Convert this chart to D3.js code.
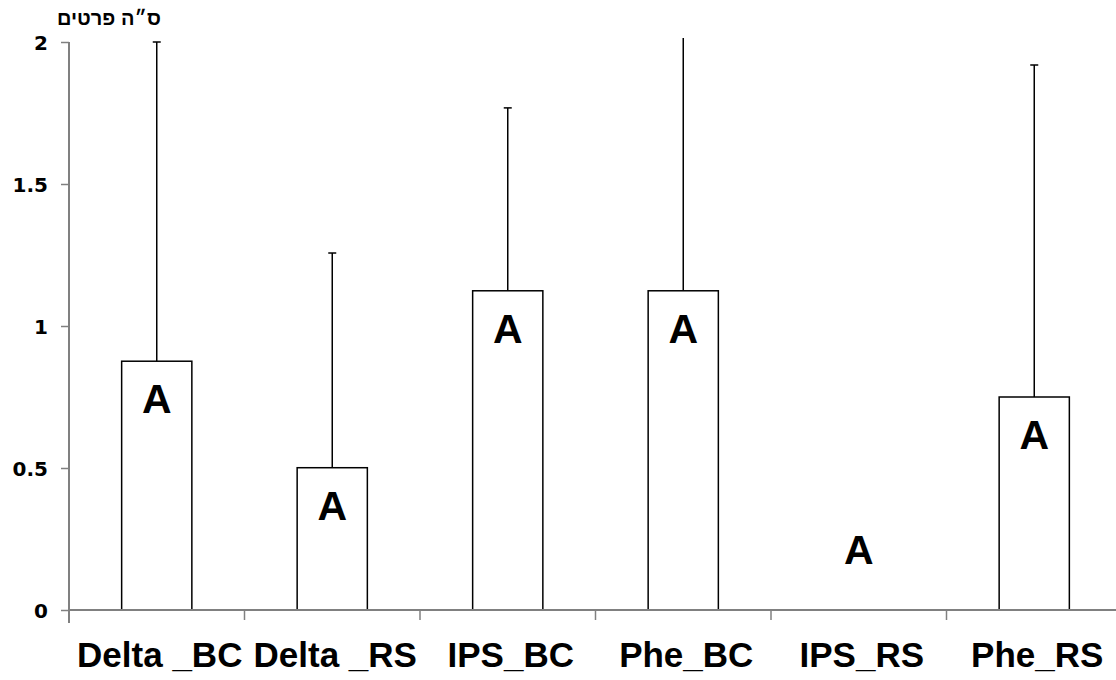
<!DOCTYPE html>
<html>
<head>
<meta charset="utf-8">
<script src="https://cdn.jsdelivr.net/npm/d3@7"></script>
<style>
  body { margin: 0; background: #fff; }
  text { font-family: Arial, "Liberation Sans", sans-serif; }
</style>
</head>
<body>
<script>
// data
var categories = ["Delta _BC", "Delta _RS", "IPS_BC", "Phe_BC", "IPS_RS", "Phe_RS"];
var means = [0.876, 0.501, 1.124, 1.124, 0, 0.75];
var errTops = [2.0, 1.257, 1.768, 2.1, 0, 1.919];
var letters = ["A", "A", "A", "A", "A", "A"];
var yTicks = [0, 0.5, 1, 1.5, 2];

var width = 1116, height = 680;
var margin = {left: 69, top: 42, bottom: 70};

var svg = d3.select("body")
            .append("svg")
            .attr("width", width)
            .attr("height", height);

var x = d3.scaleBand()
          .domain(categories)
          .range([margin.left, margin.left + 175.5 * categories.length])
          .paddingInner(0)
          .paddingOuter(0);

var y = d3.scaleLinear()
          .domain([0, 2])
          .range([610, margin.top]);

var barW = x.bandwidth() * 0.4;

// clip so error bars going past the top get cut like the original
svg.append("clipPath")
   .attr("id", "plot")
   .append("rect")
   .attr("x", margin.left)
   .attr("y", y(2) - 4)
   .attr("width", width)
   .attr("height", y(0) - y(2) + 8);

var plot = svg.append("g").attr("clip-path", "url(#plot)");

// error bars (upward only)
var err = plot.selectAll("g.err")
              .data(categories)
              .enter()
              .append("g")
              .attr("class", "err");

err.append("line")
   .attr("x1", d => x(d) + x.bandwidth() / 2)
   .attr("x2", d => x(d) + x.bandwidth() / 2)
   .attr("y1", (d, i) => y(means[i]))
   .attr("y2", (d, i) => y(errTops[i]))
   .attr("stroke", "#000")
   .attr("stroke-width", 1.5);

err.append("line")
   .attr("x1", d => x(d) + x.bandwidth() / 2 - 4)
   .attr("x2", d => x(d) + x.bandwidth() / 2 + 4)
   .attr("y1", (d, i) => y(errTops[i]))
   .attr("y2", (d, i) => y(errTops[i]))
   .attr("stroke", "#000")
   .attr("stroke-width", 1.5);

// bars
plot.selectAll("rect.bar")
    .data(categories)
    .enter()
    .append("rect")
    .attr("class", "bar")
    .attr("x", d => x(d) + (x.bandwidth() - barW) / 2)
    .attr("y", (d, i) => y(means[i]))
    .attr("width", barW)
    .attr("height", (d, i) => y(0) - y(means[i]))
    .attr("fill", "#fff")
    .attr("stroke", "#000")
    .attr("stroke-width", 1.5);

// y axis
var yAxis = d3.axisLeft(y)
              .tickValues(yTicks)
              .tickSize(8)
              .tickFormat(d3.format("~g"));

var ga = svg.append("g")
            .attr("transform", "translate(" + margin.left + ",0)")
            .call(yAxis);
ga.select(".domain").attr("stroke", "#808080").attr("stroke-width", 2)
  .attr("d", "M0," + y(2) + "V" + (y(0) + 13));
ga.selectAll(".tick line").attr("stroke", "#808080").attr("stroke-width", 1.5);
ga.selectAll(".tick text")
  .attr("x", -21)
  .attr("dy", "0.36em")
  .attr("fill", "#000")
  .style("font-family", "'DejaVu Sans', Verdana, sans-serif")
  .style("font-weight", "bold")
  .style("font-size", "20px");

// x axis
var xAxis = d3.axisBottom(x).tickSize(0).tickFormat("");
var gx = svg.append("g")
            .attr("transform", "translate(0," + y(0) + ")")
            .call(xAxis);
gx.select(".domain").attr("stroke", "#808080").attr("stroke-width", 2)
  .attr("d", "M" + margin.left + ",0H" + width);

// category separator ticks
svg.selectAll("line.sep")
   .data(categories.slice(1))
   .enter()
   .append("line")
   .attr("class", "sep")
   .attr("x1", d => x(d))
   .attr("x2", d => x(d))
   .attr("y1", y(0))
   .attr("y2", y(0) + 10)
   .attr("stroke", "#808080")
   .attr("stroke-width", 1.5);

svg.selectAll("text.cat")
   .data(categories)
   .enter()
   .append("text")
   .attr("class", "cat")
   .attr("x", d => x(d) + x.bandwidth() / 2 + 3)
   .attr("y", 667)
   .attr("text-anchor", "middle")
   .style("font-weight", "bold")
   .style("font-size", "35px")
   .text(d => d);

// significance letters
svg.selectAll("text.letter")
   .data(letters)
   .enter()
   .append("text")
   .attr("class", "letter")
   .attr("x", (d, i) => x(categories[i]) + x.bandwidth() / 2)
   .attr("y", (d, i) => means[i] > 0 ? y(means[i]) + 52 : y(0) - 46)
   .attr("text-anchor", "middle")
   .style("font-weight", "bold")
   .style("font-size", "41px")
   .text(d => d);

// y axis title (Hebrew)
svg.append("text")
   .attr("x", 109)
   .attr("y", 25)
   .attr("text-anchor", "middle")
   .style("font-family", "'Liberation Sans', Arial, sans-serif")
   .style("font-weight", "bold")
   .style("font-size", "20px")
   .text("ס״ה פרטים");
</script>
</body>
</html>
